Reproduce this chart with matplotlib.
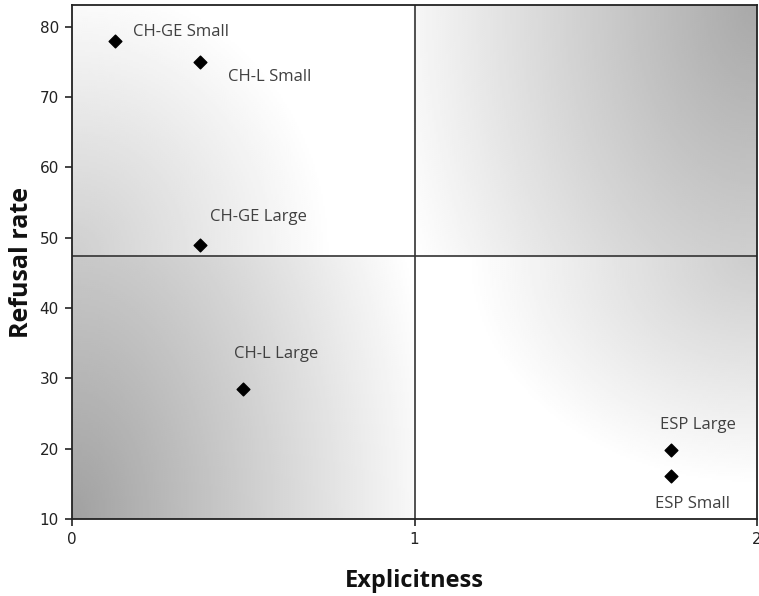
import matplotlib
matplotlib.use("Agg")
import matplotlib.pyplot as plt
import numpy as np

# data
LABELS = ["CH-GE Small", "CH-L Small", "CH-GE Large", "CH-L Large", "ESP Large", "ESP Small"]
EXPLICITNESS = [0.125, 0.375, 0.375, 0.50, 1.75, 1.75]
REFUSAL = [78.0, 75.0, 49.0, 28.5, 19.8, 16.1]

X_SPLIT = 1.0
Y_SPLIT = 47.4
XLIM = (0, 2)
YLIM = (10, 83.1)
X_TICKS = [0, 1, 2]
Y_TICKS = [10, 20, 30, 40, 50, 60, 70, 80]

# label offsets in points (dx, dy) relative to each marker
OFFSETS = [(13, 6.5), (19.5, -11), (7, 20), (-6.5, 25), (-8.5, 18), (-12, -20)]

W, H = 759, 596
DPI = 100
AX_W, AX_H = 685.0, 514.0


def background(nx=343, ny=257):
    # one radial gray gradient per quadrant, in pixel distances
    xs = np.linspace(XLIM[0], XLIM[1], nx)
    ys = np.linspace(YLIM[0], YLIM[1], ny)
    xx, yy = np.meshgrid(xs, ys)
    sx = AX_W / (XLIM[1] - XLIM[0])
    sy = AX_H / (YLIM[1] - YLIM[0])

    def shade(cx, cy, rx, ry, base):
        r = np.hypot((xx - cx) * sx / rx, (yy - cy) * sy / ry)
        return base + (1 - base) * np.clip(r, 0, 1)

    left = xx < X_SPLIT
    low = yy < Y_SPLIT
    img = np.ones_like(xx)
    q = left & low
    img[q] = shade(XLIM[0], YLIM[0], 370, 620, 0.63)[q]
    q = left & ~low
    img[q] = shade(XLIM[0], Y_SPLIT, 260, 280, 0.81)[q]
    q = ~left & ~low
    img[q] = shade(XLIM[1], YLIM[1], 380, 560, 0.66)[q]
    q = ~left & low
    img[q] = shade(XLIM[1], Y_SPLIT, 290, 230, 0.80)[q]
    return img


def main():
    fig = plt.figure(figsize=(W / DPI, H / DPI), dpi=DPI)
    ax = fig.add_axes([72 / W, 77 / H, AX_W / W, AX_H / H])

    img = background()
    ax.imshow(img, cmap="gray", vmin=0, vmax=1, origin="lower", aspect="auto",
              extent=[XLIM[0], XLIM[1], YLIM[0], YLIM[1]], zorder=0, interpolation="bilinear")

    ax.set_xlim(*XLIM)
    ax.set_ylim(*YLIM)

    ax.axhline(Y_SPLIT, color="#333333", lw=1.2, zorder=1)
    ax.axvline(X_SPLIT, color="#333333", lw=1.2, zorder=1)

    ax.scatter(EXPLICITNESS, REFUSAL, marker="D", s=42, color="black", zorder=3)

    for name, x, y, (dx, dy) in zip(LABELS, EXPLICITNESS, REFUSAL, OFFSETS):
        ax.annotate(name, (x, y), xytext=(dx, dy), textcoords="offset points",
                    ha="left", va="center", fontsize=12, color="#404040",
                    family="Open Sans", zorder=4)

    ax.set_xticks(X_TICKS)
    ax.set_yticks(Y_TICKS)
    ax.tick_params(axis="both", direction="out", length=5, width=1.2, colors="#222222",
                   labelsize=11, labelcolor="#222222", pad=4.5)
    for lab in ax.get_xticklabels() + ax.get_yticklabels():
        lab.set_family("DejaVu Sans")

    for sp in ax.spines.values():
        sp.set_color("#222222")
        sp.set_linewidth(1.3)

    ax.set_xlabel("Explicitness", fontsize=17, fontweight="bold", family="Open Sans",
                  labelpad=16, color="#111111")
    ax.set_ylabel("Refusal rate", fontsize=18, fontweight="bold", family="Open Sans",
                  labelpad=4, color="#111111")

    fig.savefig("out.png", dpi=DPI)


if __name__ == "__main__":
    main()
